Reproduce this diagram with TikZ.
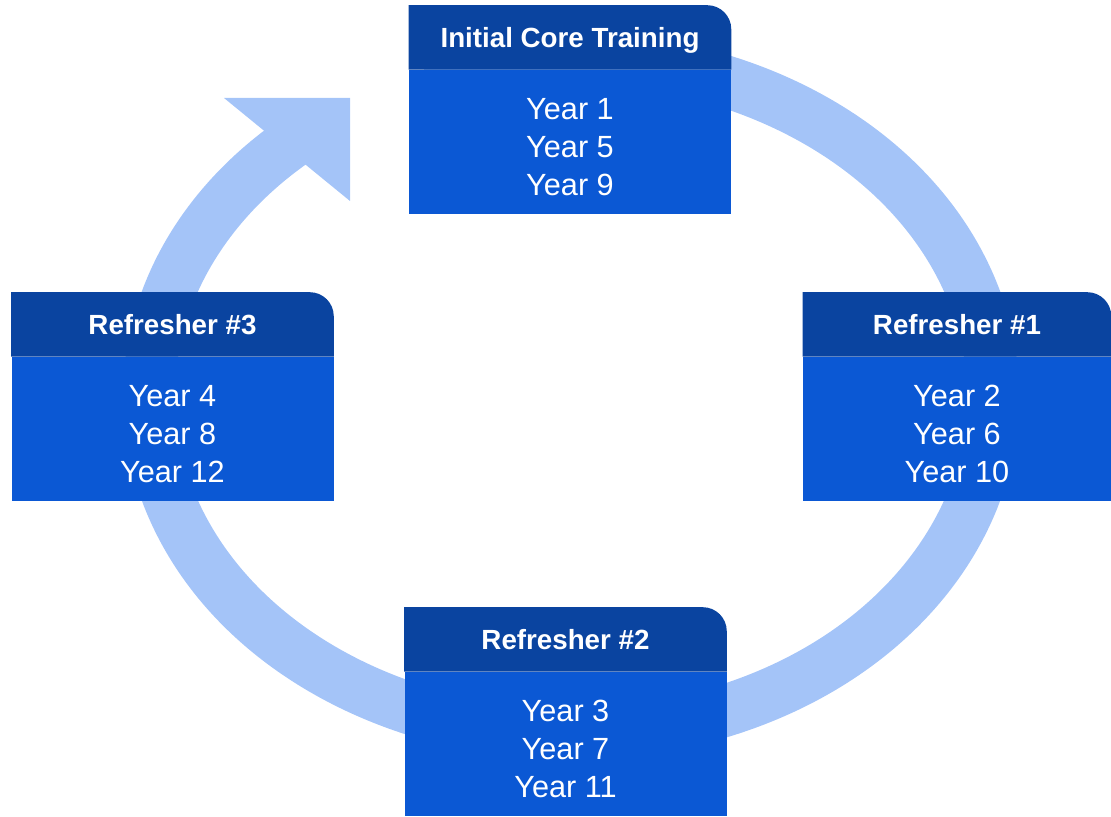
\documentclass[tikz,border=0pt]{standalone}
\usepackage{fontspec}
\setmainfont{Liberation Sans}
\usetikzlibrary{positioning,backgrounds}
\definecolor{ringblue}{HTML}{A4C4F8}
\definecolor{headblue}{HTML}{0A44A0}
\definecolor{bodyblue}{HTML}{0B58D4}
\tikzset{
    yearbox/.style={rectangle,fill=bodyblue,text=white,minimum width=241.5pt,minimum height=108pt,inner sep=0pt,align=center,font=\fontsize{23}{28.5}\selectfont},
    headbox/.style={rectangle,text=white,minimum width=241.5pt,minimum height=48pt,inner sep=0pt,text height=15pt,text depth=0pt,font=\bfseries\fontsize{20.8}{24}\selectfont},
    ring/.style={draw=ringblue,line width=39pt},
    }
% header background, only the top right corner is rounded
\newcommand{\headfill}[1]{%
    \fill[headblue] (#1.south west) -- (#1.north west) -- ([xshift=-18pt]#1.north east)
        arc[start angle=90,end angle=0,radius=18pt] -- (#1.south east) -- cycle;}
% first line a little taller, so the years sit lower in the box
\newcommand{\yearstrut}{\rule{0pt}{24pt}}

\begin{document}
\begin{tikzpicture}[x=0.75pt,y=0.75pt]
	\useasboundingbox (0,0) rectangle (1111,817);

	\node[yearbox] (core) at (570,675) {\yearstrut Year 1\\Year 5\\Year 9};
	\node[headbox,above=0pt of core] (coreh) {Initial Core Training};

	\node[yearbox,minimum width=231pt] (ref1) at (957,388) {\yearstrut Year 2\\Year 6\\Year 10};
	\node[headbox,minimum width=231pt,above=0pt of ref1] (ref1h) {Refresher \#1};

	\node[yearbox] (ref2) at (565.5,73) {\yearstrut Year 3\\Year 7\\Year 11};
	\node[headbox,above=0pt of ref2] (ref2h) {Refresher \#2};

	\node[yearbox] (ref3) at (172.5,388) {\yearstrut Year 4\\Year 8\\Year 12};
	\node[headbox,above=0pt of ref3] (ref3h) {Refresher \#3};

	\begin{pgfonlayer}{background}
	% cycle ring and its arrow head
	\draw[ring] (571,421) ++(110:422 and 338)
		arc[start angle=110,end angle=-229,x radius=422,y radius=338];
	\coordinate (tip) at (350,719);
	\fill[ringblue] (224,719) -- (tip) -- (350,616) -- cycle;

	\headfill{coreh}
	\headfill{ref1h}
	\headfill{ref2h}
	\headfill{ref3h}
	\end{pgfonlayer}
\end{tikzpicture}
\end{document}
